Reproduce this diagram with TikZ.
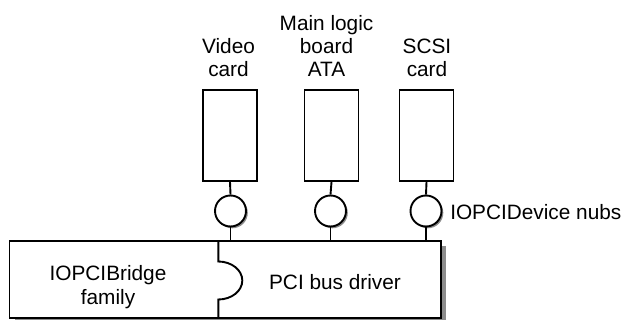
\documentclass[tikz,border=0pt]{standalone}
\usepackage{fontspec}
\setmainfont{Liberation Sans}
\usetikzlibrary{shadows}
\begin{document}
\begin{tikzpicture}[x=1pt,y=-1pt,
  line width=1.9pt,
  every node/.style={font=\fontsize{20.8}{23.3}\selectfont, inner sep=0pt},
  card/.style={draw, fill=white, minimum width=54pt, minimum height=91pt},
  nub/.style={draw, circle, fill=white, minimum size=31pt,
    drop shadow={shadow xshift=1.8pt, shadow yshift=-1.8pt, fill=black!45, opacity=1}},
  busbox/.style={draw, fill=white, minimum width=431.2pt, minimum height=77.3pt,
    drop shadow={shadow xshift=5pt, shadow yshift=-5pt, fill=black!45, opacity=1}},
  lbl/.style={align=center, anchor=base}]
\useasboundingbox (0,0) rectangle (626,320);

% cards
\node[card] (vcard) at (230,135.5) {};
\node[card] (mcard) at (331.5,135.5) {};
\node[card] (scard) at (426.5,135.5) {};

% labels (y = baseline of last line)
\node[lbl] (vlbl) at (228.5,77) {Video\\card};
\node[lbl] (mlbl) at (326.5,77) {Main logic\\board\\ATA};
\node[lbl] (slbl) at (427,77) {SCSI\\card};

% bus box
\node[busbox] (bus) at (225.1,279.35) {};

% nubs
\node[nub] (vnub) at (230.5,211) {};
\node[nub] (mnub) at (330.5,211) {};
\node[nub] (snub) at (426,211) {};

% stems
\draw (vcard.south) -- (vnub.north);
\draw (mcard.south) -- (mnub.north);
\draw (scard.south) -- (snub.north);
\draw (vnub.south) -- (vnub.south |- bus.north);
\draw (mnub.south) -- (mnub.south |- bus.north);
\draw (snub.south) -- (snub.south |- bus.north);

% divider with bump
\coordinate (dtop) at (218.3,240.7);
\coordinate (dbot) at (218.3,318);
\draw (dtop) -- (218.3,261.5) arc[start angle=90, end angle=-90, x radius=24pt, y radius=19pt] -- (dbot);

% texts
\node[lbl] (bridge) at (108,304) {IOPCIBridge\\family};
\node[lbl] (driver) at (335,289.3) {PCI bus driver};
\node[anchor=base west] (nubs) at (449.3,219.3) {IOPCIDevice nubs};
\end{tikzpicture}
\end{document}
